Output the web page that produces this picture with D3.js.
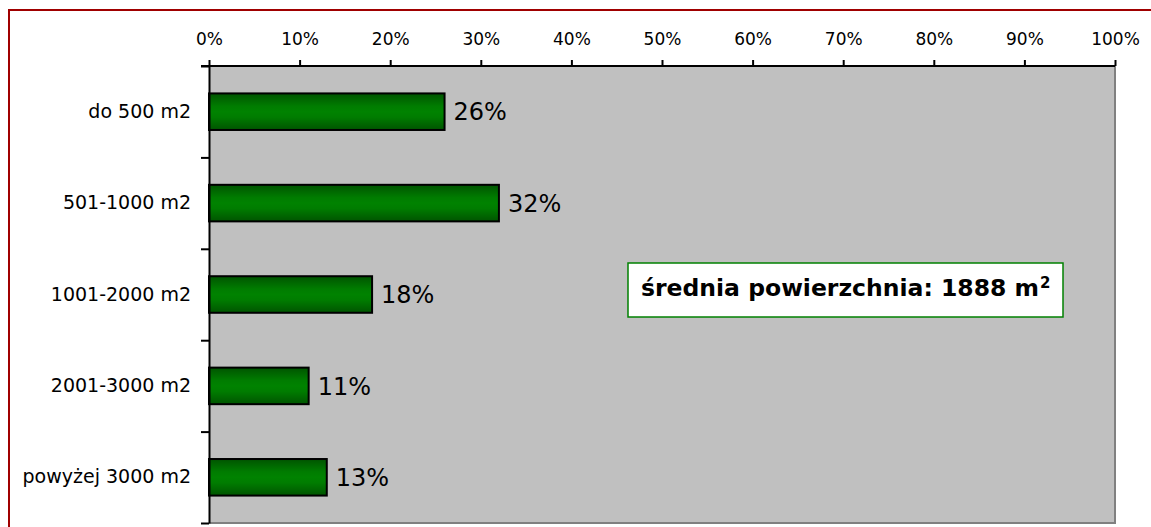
<!DOCTYPE html>
<html>
<head>
<meta charset="utf-8">
<script src="https://cdn.jsdelivr.net/npm/d3@7"></script>
<style>
  body { margin: 0; background: #fff; }
  svg { display: block; font-family: "DejaVu Sans", Verdana, sans-serif; }
</style>
</head>
<body>
<div id="chart"></div>
<script>
// data
const categories = ["do 500 m2", "501-1000 m2", "1001-2000 m2", "2001-3000 m2", "powyżej 3000 m2"];
const shares = [26, 32, 18, 11, 13];
const tickValues = [0, 10, 20, 30, 40, 50, 60, 70, 80, 90, 100];
const noteText = "średnia powierzchnia: 1888 m";
const noteSup = "2";

const svgWidth = 1151;
const svgHeight = 527;

const plot = { left: 209, right: 1115, top: 66, bottom: 523 };

const svg = d3.select("#chart")
    .append("svg")
    .attr("width", svgWidth)
    .attr("height", svgHeight);

// gradient for bars
const grad = svg.append("defs").append("linearGradient")
    .attr("id", "barGrad")
    .attr("x1", 0).attr("y1", 0).attr("x2", 0).attr("y2", 1);
grad.append("stop").attr("offset", "0%").attr("stop-color", "#005400");
grad.append("stop").attr("offset", "35%").attr("stop-color", "#007c00");
grad.append("stop").attr("offset", "50%").attr("stop-color", "#008200");
grad.append("stop").attr("offset", "65%").attr("stop-color", "#007c00");
grad.append("stop").attr("offset", "100%").attr("stop-color", "#005400");

// outer frame (clipped at right/bottom)
svg.append("rect")
    .attr("x", 9).attr("y", 10)
    .attr("width", 1160).attr("height", 540)
    .attr("fill", "none")
    .attr("stroke", "#a00000")
    .attr("stroke-width", 2);

const xScale = d3.scaleLinear()
    .domain([0, 100])
    .range([plot.left, plot.right]);

const yScale = d3.scaleBand()
    .domain(categories)
    .range([plot.top, plot.bottom])
    .paddingInner(0.6)
    .paddingOuter(0.3);

// plot area
svg.append("rect")
    .attr("x", plot.left).attr("y", plot.top)
    .attr("width", plot.right - plot.left)
    .attr("height", plot.bottom - plot.top)
    .attr("fill", "#c0c0c0");

svg.append("path")
    .attr("d", `M${plot.right},${plot.top}V${plot.bottom}H${plot.left}`)
    .attr("fill", "none")
    .attr("stroke", "#808080")
    .attr("stroke-width", 2);

// bars
svg.selectAll("rect.bar")
    .data(shares)
    .enter()
    .append("rect")
    .attr("class", "bar")
    .attr("x", xScale(0))
    .attr("y", (d, i) => yScale(categories[i]))
    .attr("width", d => xScale(d) - xScale(0))
    .attr("height", yScale.bandwidth())
    .attr("fill", "url(#barGrad)")
    .attr("stroke", "#000")
    .attr("stroke-width", 2);

svg.selectAll("text.val")
    .data(shares)
    .enter()
    .append("text")
    .attr("class", "val")
    .attr("x", d => xScale(d) + 9)
    .attr("y", (d, i) => yScale(categories[i]) + yScale.bandwidth() / 2)
    .attr("dy", "0.36em")
    .style("font-size", "24px")
    .attr("fill", "#000")
    .text(d => d + "%");

// top axis
const topAxis = svg.append("g")
    .attr("transform", `translate(0, ${plot.top})`)
    .call(d3.axisTop(xScale)
        .tickValues(tickValues)
        .tickSize(6)
        .tickSizeOuter(0)
        .tickPadding(15)
        .tickFormat(d => d + "%"));
topAxis.attr("font-family", null).attr("font-size", null);
topAxis.select(".domain").attr("stroke-width", 2).attr("d", `M${plot.left - 8},0H${plot.right}`);
topAxis.selectAll(".tick line").attr("stroke-width", 2);
topAxis.selectAll("text").style("font-size", "17px").attr("fill", "#000");

// left axis: tick marks at category boundaries
const boundScale = d3.scaleLinear()
    .domain([0, categories.length])
    .range([plot.top, plot.bottom]);
const leftAxis = svg.append("g")
    .attr("transform", `translate(${plot.left}, 0)`)
    .call(d3.axisLeft(boundScale)
        .tickValues(d3.range(categories.length + 1))
        .tickSize(8)
        .tickSizeOuter(0)
        .tickFormat(""));
leftAxis.select(".domain").attr("stroke-width", 2);
leftAxis.selectAll(".tick line").attr("stroke-width", 2);

// category labels
const catAxis = svg.append("g")
    .attr("transform", `translate(${plot.left}, 0)`)
    .call(d3.axisLeft(yScale).tickSize(0).tickPadding(18));
catAxis.attr("font-family", null).attr("font-size", null);
catAxis.select(".domain").remove();
catAxis.selectAll("text").style("font-size", "19px").attr("fill", "#000");

// note box
svg.append("rect")
    .attr("x", 628).attr("y", 263)
    .attr("width", 435).attr("height", 54)
    .attr("fill", "#fff")
    .attr("stroke", "#008000")
    .attr("stroke-width", 1.5);

const note = svg.append("text")
    .attr("x", 641).attr("y", 296)
    .style("font-size", "23.5px")
    .style("font-weight", "bold")
    .attr("fill", "#000");
note.append("tspan").text(noteText);
note.append("tspan")
    .attr("dx", 1)
    .attr("dy", "-0.55em")
    .style("font-size", "15px")
    .text(noteSup);
</script>
</body>
</html>
